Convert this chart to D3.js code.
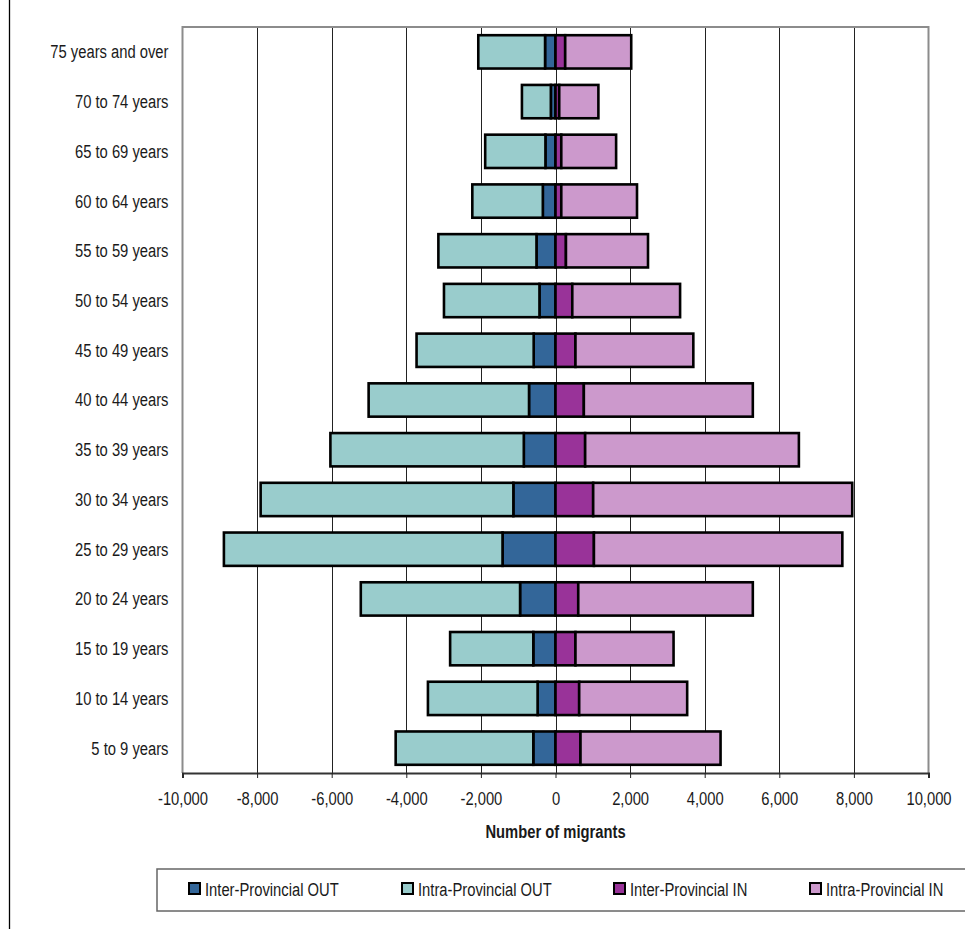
<!DOCTYPE html>
<html>
<head>
<meta charset="utf-8">
<script src="https://cdn.jsdelivr.net/npm/d3@7"></script>
<style>
  html, body { margin: 0; padding: 0; background: #fff; }
  svg text { font-family: "Liberation Sans", Arial, sans-serif; fill: #1a1a1a; }
</style>
</head>
<body>
<svg id="chart" width="965" height="929"></svg>
<script>
// ---- data ----
const categories = ["75 years and over","70 to 74 years","65 to 69 years","60 to 64 years","55 to 59 years","50 to 54 years","45 to 49 years","40 to 44 years","35 to 39 years","30 to 34 years","25 to 29 years","20 to 24 years","15 to 19 years","10 to 14 years","5 to 9 years"];
const interOut = [280, 125, 270, 340, 510, 430, 585, 710, 850, 1130, 1420, 950, 595, 480, 595];
const intraOut = [1790, 775, 1615, 1890, 2630, 2560, 3140, 4300, 5185, 6775, 7470, 4270, 2230, 2940, 3690];
const interIn  = [260, 100, 155, 155, 280, 450, 535, 760, 795, 1010, 1030, 610, 535, 635, 670];
const intraIn  = [1770, 1050, 1470, 2030, 2200, 2890, 3160, 4530, 5730, 6945, 6660, 4680, 2630, 2895, 3755];
const tickValues = [-10000,-8000,-6000,-4000,-2000,0,2000,4000,6000,8000,10000];
const seriesNames = ["Inter-Provincial OUT","Intra-Provincial OUT","Inter-Provincial IN","Intra-Provincial IN"];
const seriesColors = ["#336699","#99CCCC","#993399","#CC99CC"];

const svg = d3.select("#chart");
const L = 182.5, R = 928.5, T = 27, B = 773;
const FS = 18;

// condense text like a narrow face
function narrow(sel) {
  sel.each(function () {
    const w = this.getComputedTextLength();
    d3.select(this).attr("textLength", (w * 0.82).toFixed(2)).attr("lengthAdjust", "spacingAndGlyphs");
  });
}

const x = d3.scaleLinear().domain([-10000, 10000]).range([L, R]);
const y = d3.scaleBand().domain(categories).range([T, B]).paddingInner(0.33).paddingOuter(0.165);

// outer frame line on the left
svg.append("line").attr("x1", 9.5).attr("x2", 9.5).attr("y1", 0).attr("y2", 929)
  .attr("stroke", "#000").attr("stroke-width", 1.3);

// gridlines
svg.append("g").selectAll("line").data(tickValues.slice(1, -1)).join("line")
  .attr("x1", d => Math.round(x(d)) + 0.5).attr("x2", d => Math.round(x(d)) + 0.5)
  .attr("y1", T).attr("y2", B)
  .attr("stroke", "#222").attr("stroke-width", 1);

// plot border (left, top, right) gray
svg.append("path")
  .attr("d", `M${L},${B} V${T} H${R} V${B}`)
  .attr("fill", "none").attr("stroke", "#8c8c8c").attr("stroke-width", 2);

// build stacked segments
const rows = categories.map((c, i) => ({
  cat: c,
  segs: [
    { s: 0, x0: -interOut[i], x1: 0 },
    { s: 1, x0: -interOut[i] - intraOut[i], x1: -interOut[i] },
    { s: 2, x0: 0, x1: interIn[i] },
    { s: 3, x0: interIn[i], x1: interIn[i] + intraIn[i] }
  ]
}));

const g = svg.append("g");
rows.forEach(r => {
  g.selectAll(null).data(r.segs).join("rect")
    .attr("x", d => x(d.x0))
    .attr("width", d => x(d.x1) - x(d.x0))
    .attr("y", y(r.cat))
    .attr("height", y.bandwidth())
    .attr("fill", d => seriesColors[d.s])
    .attr("stroke", "#000")
    .attr("stroke-width", 2.6);
});

// x axis
const fmt = d3.formatLocale({ decimal: ".", thousands: ",", grouping: [3], currency: ["", ""], minus: "-" }).format(",");
const xAxis = d3.axisBottom(x).tickValues(tickValues).tickSize(5).tickFormat(fmt);
const ax = svg.append("g").attr("transform", `translate(0,${B})`).call(xAxis);
ax.select(".domain").attr("stroke", "#333").attr("stroke-width", 2);
ax.selectAll(".tick line").attr("stroke", "#222");
ax.selectAll(".tick text").attr("font-size", FS).attr("font-family", null)
  .attr("y", 32).attr("dy", null).style("fill", "#1a1a1a").call(narrow);

// y labels
const yAxis = d3.axisLeft(y).tickSize(0).tickPadding(14);
const ay = svg.append("g").attr("transform", `translate(${L},0)`).call(yAxis);
ay.select(".domain").remove();
ay.selectAll(".tick text").attr("font-size", FS).attr("font-family", null)
  .attr("dy", "0.36em").style("fill", "#1a1a1a").call(narrow);

// axis title
svg.append("text").attr("x", x(0)).attr("y", 838).attr("text-anchor", "middle")
  .attr("font-size", FS).attr("font-weight", "bold").text("Number of migrants").call(narrow);

// legend
svg.append("rect").attr("x", 157).attr("y", 869).attr("width", 820).attr("height", 42)
  .attr("fill", "#fff").attr("stroke", "#666").attr("stroke-width", 1.5);
const legX = [189, 402, 614, 810];
const leg = svg.append("g").selectAll("g").data(seriesNames).join("g")
  .attr("transform", (d, i) => `translate(${legX[i]},883)`);
leg.append("rect").attr("width", 11).attr("height", 11)
  .attr("fill", (d, i) => seriesColors[i]).attr("stroke", "#000").attr("stroke-width", 2);
leg.append("text").attr("x", 16).attr("y", 12.5).attr("font-size", FS).text(d => d).call(narrow);
</script>
</body>
</html>
